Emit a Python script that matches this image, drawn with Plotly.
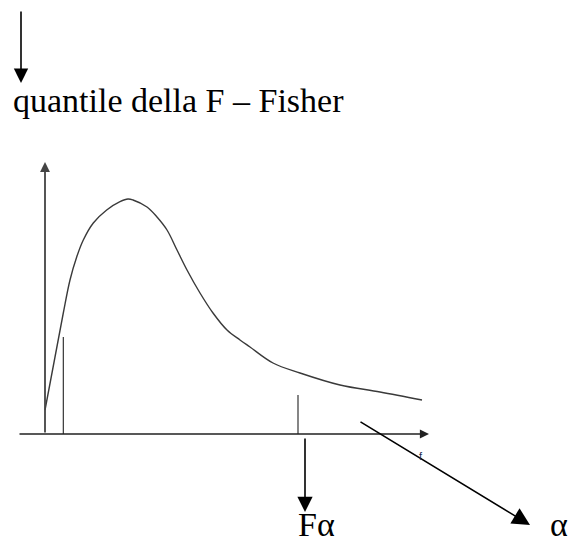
import plotly.graph_objects as go

# F-distribution density sketch (f on the horizontal axis, density upward)
curve_f = [0.00, 0.20, 0.366, 0.50, 0.634, 0.766, 0.966, 1.234, 1.50, 1.66,
           1.76, 2.04, 2.24, 2.44, 2.64, 2.84, 3.10, 3.36, 3.64, 3.90, 4.10,
           4.56, 5.10, 5.90, 6.70, 7.54]
curve_d = [0.48, 1.54, 2.42, 3.08, 3.54, 3.88, 4.22, 4.48, 4.646, 4.70,
           4.68, 4.54, 4.34, 4.08, 3.68, 3.28, 2.82, 2.42, 2.08, 1.88, 1.74,
           1.42, 1.22, 0.98, 0.84, 0.68]

# vertical markers under the curve (lower bound and the quantile F-alpha)
marker_f = [0.366, 5.06]
marker_h = [1.94, 0.78]

title_text = "quantile della F – Fisher"
quantile_label = "Fα"
tail_label = "α"
axis_label = "f"

fig = go.Figure()

fig.add_trace(go.Scatter(
    x=curve_f, y=curve_d, mode="lines",
    line=dict(color="#3a3a3a", width=1.4, shape="spline", smoothing=1.0),
    hoverinfo="skip", showlegend=False,
))

for xf, h in zip(marker_f, marker_h):
    fig.add_trace(go.Scatter(
        x=[xf, xf], y=[0, h], mode="lines",
        line=dict(color="#222222", width=1.1),
        hoverinfo="skip", showlegend=False,
    ))


def arrow(x0, y0, x1, y1, width, size, color="black"):
    fig.add_annotation(
        x=x1, y=y1, ax=x0, ay=y0, xref="x", yref="y", axref="x", ayref="y",
        text="", showarrow=True, arrowhead=2, arrowsize=size,
        arrowwidth=width, arrowcolor=color, standoff=0, startstandoff=0,
    )


# coordinate axes
arrow(-0.54, 0.0, 7.68, 0.0, 1.4, 1.3, "#222222")
arrow(0.0, 0.0, 0.0, 5.44, 1.8, 1.1, "#444444")

# pointer arrows
arrow(-0.48, 8.48, -0.48, 7.02, 1.6, 1.8)
arrow(5.20, -0.06, 5.20, -1.56, 1.6, 1.9)
arrow(6.28, 0.26, 9.70, -1.82, 1.6, 2.2)

serif = dict(family="Liberation Serif, Times New Roman, serif", size=34, color="black")

fig.add_annotation(x=-0.68, y=6.67, xref="x", yref="y", text=title_text,
                   showarrow=False, xanchor="left", yanchor="middle", font=serif)
fig.add_annotation(x=5.02, y=-1.80, xref="x", yref="y", text=quantile_label,
                   showarrow=False, xanchor="left", yanchor="middle", font=serif)
fig.add_annotation(x=10.06, y=-1.80, xref="x", yref="y", text=tail_label,
                   showarrow=False, xanchor="left", yanchor="middle", font=serif)
fig.add_annotation(x=7.52, y=-0.44, xref="x", yref="y", text=axis_label,
                   showarrow=False, xanchor="center", yanchor="middle",
                   font=dict(family="Liberation Sans, Arial, sans-serif", size=11,
                             color="#1f2f55"))

fig.update_layout(
    width=569, height=542,
    margin=dict(l=0, r=0, t=0, b=0),
    paper_bgcolor="white", plot_bgcolor="white",
    xaxis=dict(range=[-0.9, 10.48], visible=False, fixedrange=True),
    yaxis=dict(range=[-2.16, 8.68], visible=False, fixedrange=True),
    showlegend=False,
)

fig.write_html("out.html")
